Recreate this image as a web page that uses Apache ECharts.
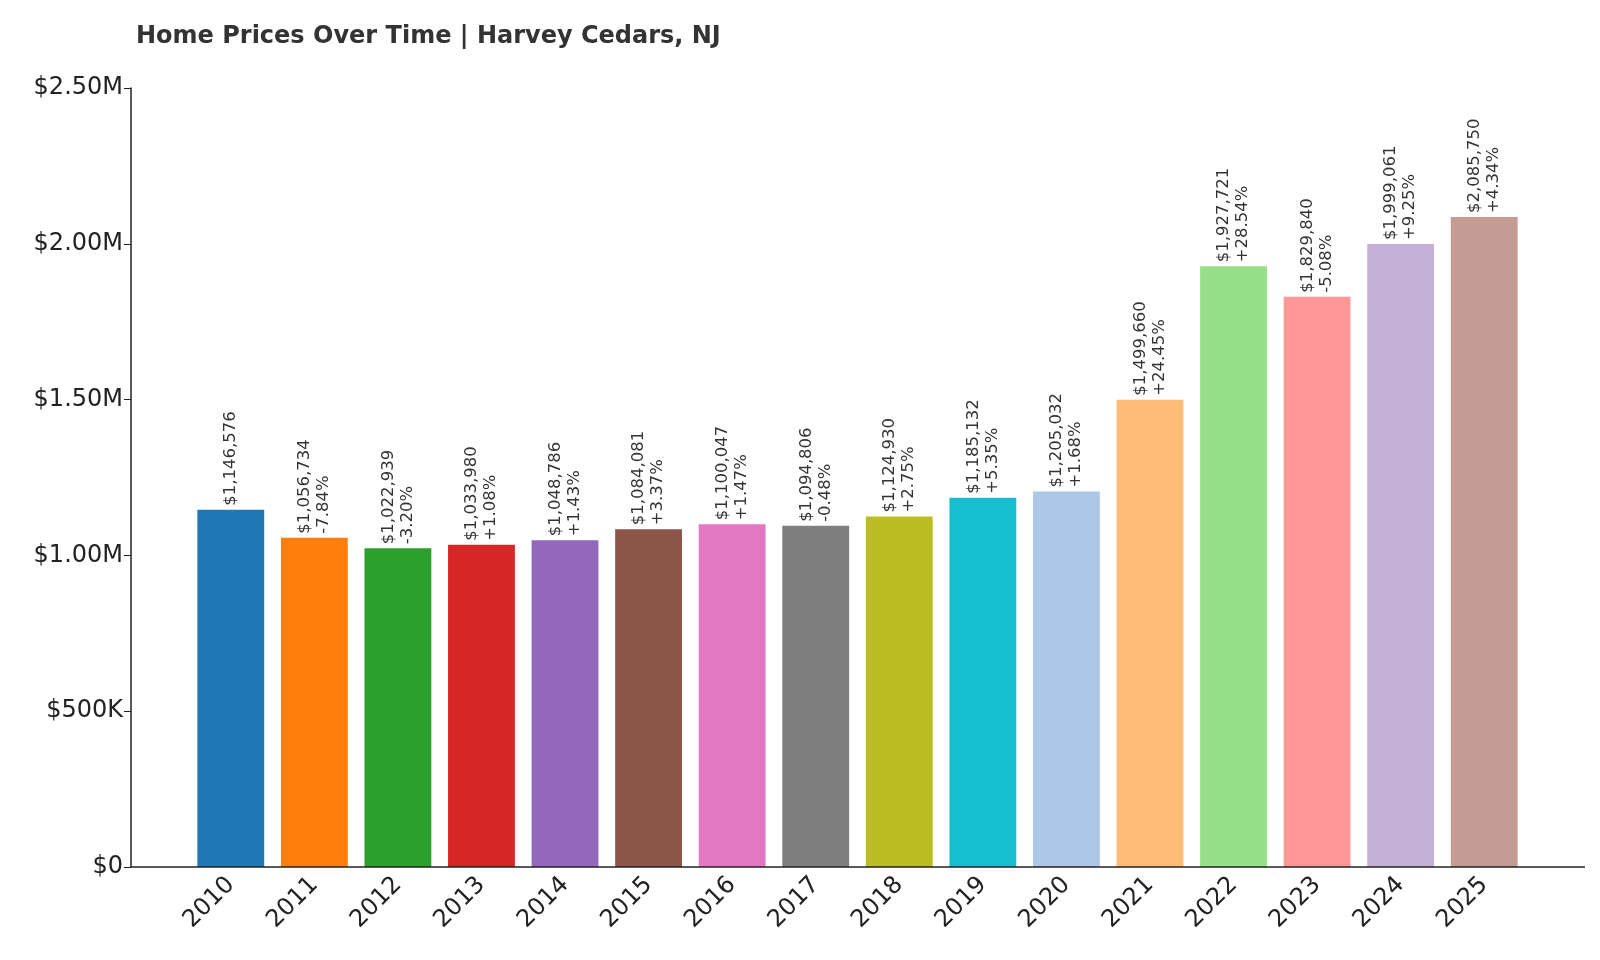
<!DOCTYPE html>
<html><head><meta charset="utf-8">
<script src="https://cdn.jsdelivr.net/npm/echarts@6/dist/echarts.min.js"></script>
<style>html,body{margin:0;padding:0;background:#fff}#c{width:1600px;height:960px}</style>
</head><body><div id="c"></div>
<script>
const years = ['2010','2011','2012','2013','2014','2015','2016','2017','2018','2019','2020','2021','2022','2023','2024','2025'];
const prices = [1146576,1056734,1022939,1033980,1048786,1084081,1100047,1094806,1124930,1185132,1205032,1499660,1927721,1829840,1999061,2085750];
const changes = ['', '-7.84%','-3.20%','+1.08%','+1.43%','+3.37%','+1.47%','-0.48%','+2.75%','+5.35%','+1.68%','+24.45%','+28.54%','-5.08%','+9.25%','+4.34%'];
const colors = ['#1f77b4','#ff7f0e','#2ca02c','#d62728','#9467bd','#8c564b','#e377c2','#7f7f7f','#bcbd22','#17becf','#aec7e8','#ffbb78','#98df8a','#ff9896','#c5b0d5','#c49c94'];
const yTicks = {0:'$0',500000:'$500K',1000000:'$1.00M',1500000:'$1.50M',2000000:'$2.00M',2500000:'$2.50M'};
const chart = echarts.init(document.getElementById('c'));
chart.setOption({
  animation:false,
  title:{text:'Home Prices Over Time | Harvey Cedars, NJ',left:131,top:20,textStyle:{fontFamily:'DejaVu Sans',fontSize:24,fontWeight:'bold',color:'#333'}},
  grid:{left:189,right:74,top:88,bottom:93},
  xAxis:{type:'category',data:years,axisLine:{show:false},
    axisTick:{alignWithLabel:true,length:7,lineStyle:{color:'#222'}},
    axisLabel:{rotate:45,fontSize:24,color:'#222',fontFamily:'DejaVu Sans',margin:14}},
  yAxis:{type:'value',min:0,max:2500000,interval:500000,offset:58,splitLine:{show:false},
    axisLine:{show:true,lineStyle:{color:'#222',width:1.5}},axisTick:{show:true,length:7,lineStyle:{color:'#222'}},
    axisLabel:{fontSize:24,color:'#222',fontFamily:'DejaVu Sans',formatter:v=>yTicks[v]}},
  graphic:[{type:'line',shape:{x1:131,y1:867,x2:1585,y2:867},style:{stroke:'#222',lineWidth:1.5},z:10}],
  series:[{type:'bar',barCategoryGap:'20%',
    data:prices.map((v,i)=>({value:v,itemStyle:{color:colors[i]}})),
    label:{show:true,position:'top',rotate:90,align:'left',verticalAlign:'middle',distance:4,
      fontSize:16.5,lineHeight:19,color:'#333',fontFamily:'DejaVu Sans',
      formatter:p=>'$'+p.value.toLocaleString('en-US')+(changes[p.dataIndex]?'\n'+changes[p.dataIndex]:'')}}]
});
</script></body></html>
